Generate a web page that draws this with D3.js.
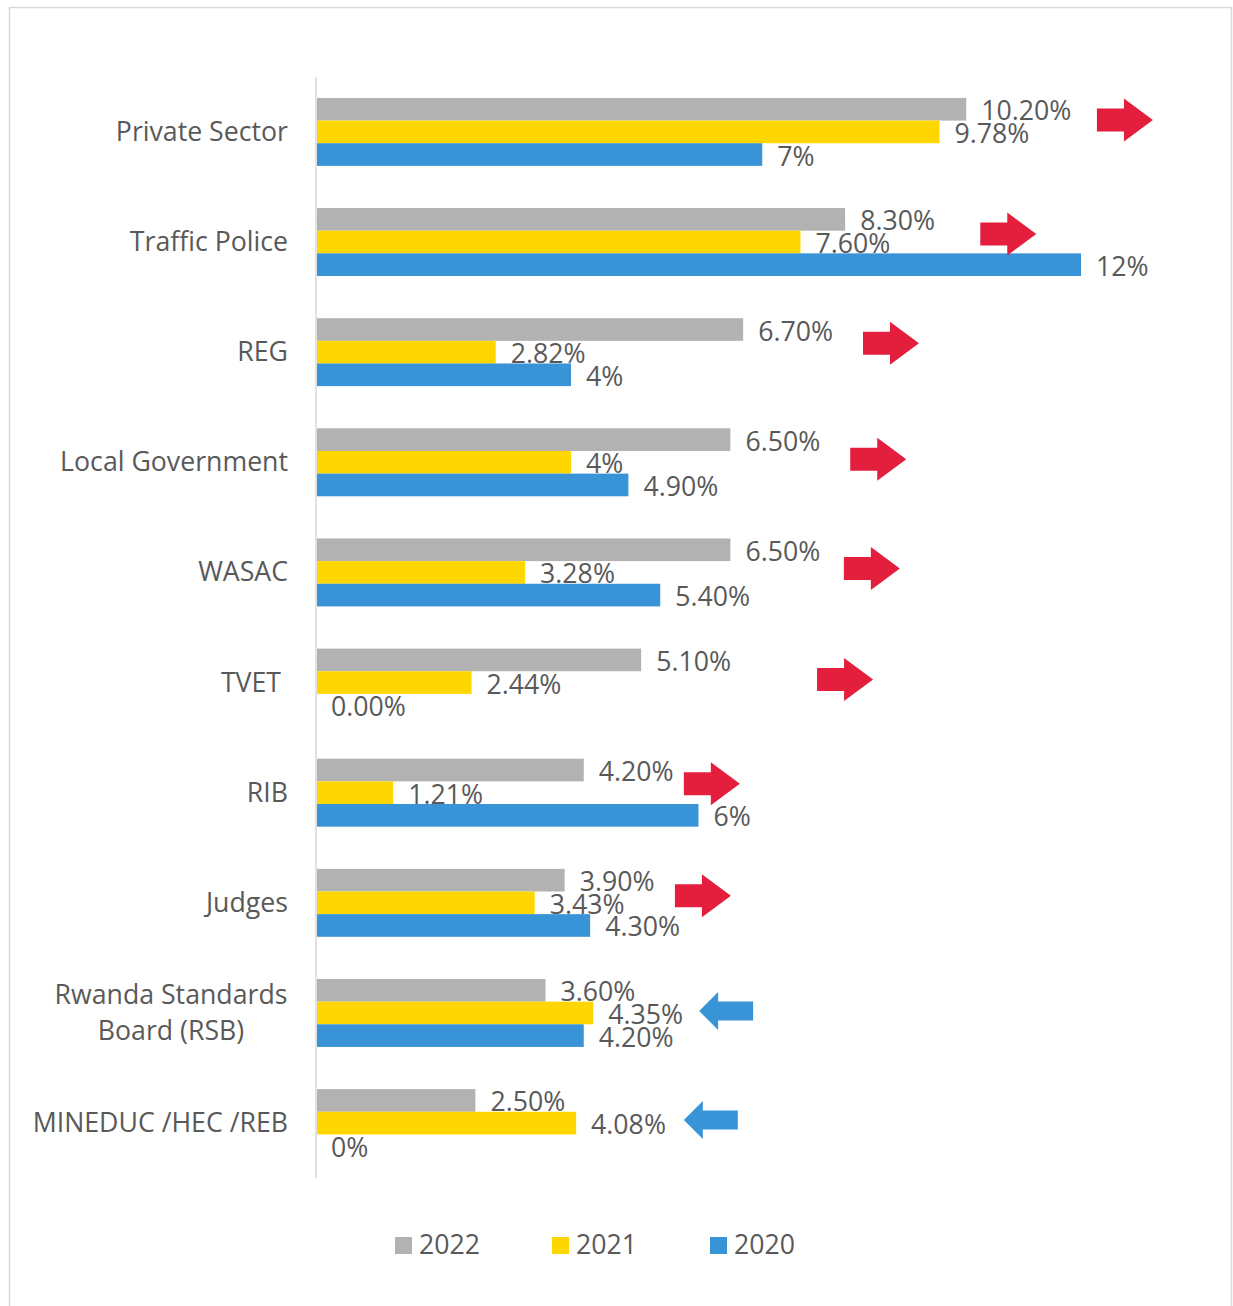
<!DOCTYPE html>
<html>
<head>
<meta charset="utf-8">
<script src="https://cdn.jsdelivr.net/npm/d3@7"></script>
<style>
  body { margin: 0; background: #fff; }
  text { font-family: "Open Sans", sans-serif; fill: #595959; font-size: 26.7px; }
</style>
</head>
<body>
<svg id="chart" width="1233" height="1306"></svg>
<script>
// data
var categories = ["Private Sector", "Traffic Police", "REG", "Local Government", "WASAC",
  "TVET ", "RIB", "Judges", "Rwanda Standards\nBoard (RSB)", "MINEDUC /HEC /REB"];
var years = ["2022", "2021", "2020"];
var values2022 = [10.20, 8.30, 6.70, 6.50, 6.50, 5.10, 4.20, 3.90, 3.60, 2.50];
var values2021 = [9.78, 7.60, 2.82, 4, 3.28, 2.44, 1.21, 3.43, 4.35, 4.08];
var values2020 = [7, 12, 4, 4.90, 5.40, 0, 6, 4.30, 4.20, 0];
var labels2022 = ["10.20%", "8.30%", "6.70%", "6.50%", "6.50%", "5.10%", "4.20%", "3.90%", "3.60%", "2.50%"];
var labels2021 = ["9.78%", "7.60%", "2.82%", "4%", "3.28%", "2.44%", "1.21%", "3.43%", "4.35%", "4.08%"];
var labels2020 = ["7%", "12%", "4%", "4.90%", "5.40%", "0.00%", "6%", "4.30%", "4.20%", "0%"];
// trend arrows (hand placed annotations): direction, spot on the value axis in %, nudge from row centre
var trendDir = ["up", "up", "up", "up", "up", "up", "up", "up", "down", "down"];
var trendAt = [12.25, 10.42, 8.58, 8.38, 8.28, 7.86, 5.77, 5.63, 6.01, 5.77];
var trendDy = [-12, -8, -9, -3, -4, -3, -9, -7, -2, -3];

var colors = {"2022": "#b2b2b2", "2021": "#ffd700", "2020": "#3894d7"};
var series = {
  "2022": {v: values2022, l: labels2022},
  "2021": {v: values2021, l: labels2021},
  "2020": {v: values2020, l: labels2020}
};

var svg = d3.select("#chart");

// outer frame (bottom edge runs off the picture)
svg.append("rect")
  .attr("x", 9.5).attr("y", 7.5)
  .attr("width", 1222).attr("height", 1320)
  .attr("fill", "none")
  .attr("stroke", "#d9d9d9")
  .attr("stroke-width", 1.5);

var x = d3.scaleLinear().domain([0, 12]).range([316, 1081]);
var y = d3.scaleBand().domain(categories).range([77, 1178])
  .paddingInner(0.383).paddingOuter(0.19);
var ySub = d3.scaleBand().domain(years).range([0, y.bandwidth()]);

// category axis line
svg.append("line")
  .attr("x1", 316).attr("x2", 316)
  .attr("y1", 77).attr("y2", 1178)
  .attr("stroke", "#d9d9d9")
  .attr("stroke-width", 1.5);

var rows = categories.map(function(c, i){
  return years.map(function(yr){
    return {cat: c, year: yr, v: series[yr].v[i], l: series[yr].l[i]};
  });
});
var flat = d3.merge(rows);

svg.append("g").selectAll("rect")
  .data(flat)
  .join("rect")
  .attr("x", x(0) + 1)
  .attr("y", function(d){ return y(d.cat) + ySub(d.year); })
  .attr("width", function(d){ return Math.max(0, x(d.v) - x(0) - 1); })
  .attr("height", ySub.bandwidth())
  .attr("fill", function(d){ return colors[d.year]; });

svg.append("g").selectAll("text")
  .data(flat)
  .join("text")
  .attr("x", function(d){ return x(d.v) + 15; })
  .attr("y", function(d){ return y(d.cat) + ySub(d.year) + ySub.bandwidth() / 2 + 11; })
  .text(function(d){ return d.l; });

// category labels (wrapped ones are centred as a block, right aligned)
var catG = svg.append("g");
categories.forEach(function(c){
  var lines = c.split("\n");
  var cy = y(c) + y.bandwidth() / 2;
  var t = catG.append("text")
    .style("white-space", "pre")
    .attr("text-anchor", lines.length > 1 ? "middle" : "end");
  lines.forEach(function(ln, k){
    t.append("tspan")
      .attr("x", lines.length > 1 ? 171 : 288)
      .attr("y", cy + 9 + (k - (lines.length - 1) / 2) * 36)
      .text(ln);
  });
});

// trend arrows
var arrowG = svg.append("g");
categories.forEach(function(c, i){
  var cy = y(c) + y.bandwidth() / 2 + trendDy[i];
  var x0 = x(trendAt[i]);
  var pts;
  if (trendDir[i] === "up") {
    pts = [[0, -11.5], [27, -11.5], [27, -21.5], [56, 0], [27, 21.5], [27, 11.5], [0, 11.5]];
  } else {
    pts = [[0, 0], [19, -19], [19, -9.5], [54, -9.5], [54, 9.5], [19, 9.5], [19, 19]];
  }
  arrowG.append("path")
    .attr("d", d3.line()(pts.map(function(p){ return [x0 + p[0], cy + p[1]]; })) + "Z")
    .attr("fill", trendDir[i] === "up" ? "#e31f3d" : "#3894d7");
});

// legend
var legendX = [395, 552, 710];
var leg = svg.append("g").selectAll("g")
  .data(years)
  .join("g")
  .attr("transform", function(d, i){ return "translate(" + legendX[i] + ",1237)"; });
leg.append("rect")
  .attr("width", 17).attr("height", 17)
  .attr("fill", function(d){ return colors[d]; });
leg.append("text")
  .attr("x", 24).attr("y", 17)
  .text(function(d){ return d; });
</script>
</body>
</html>
